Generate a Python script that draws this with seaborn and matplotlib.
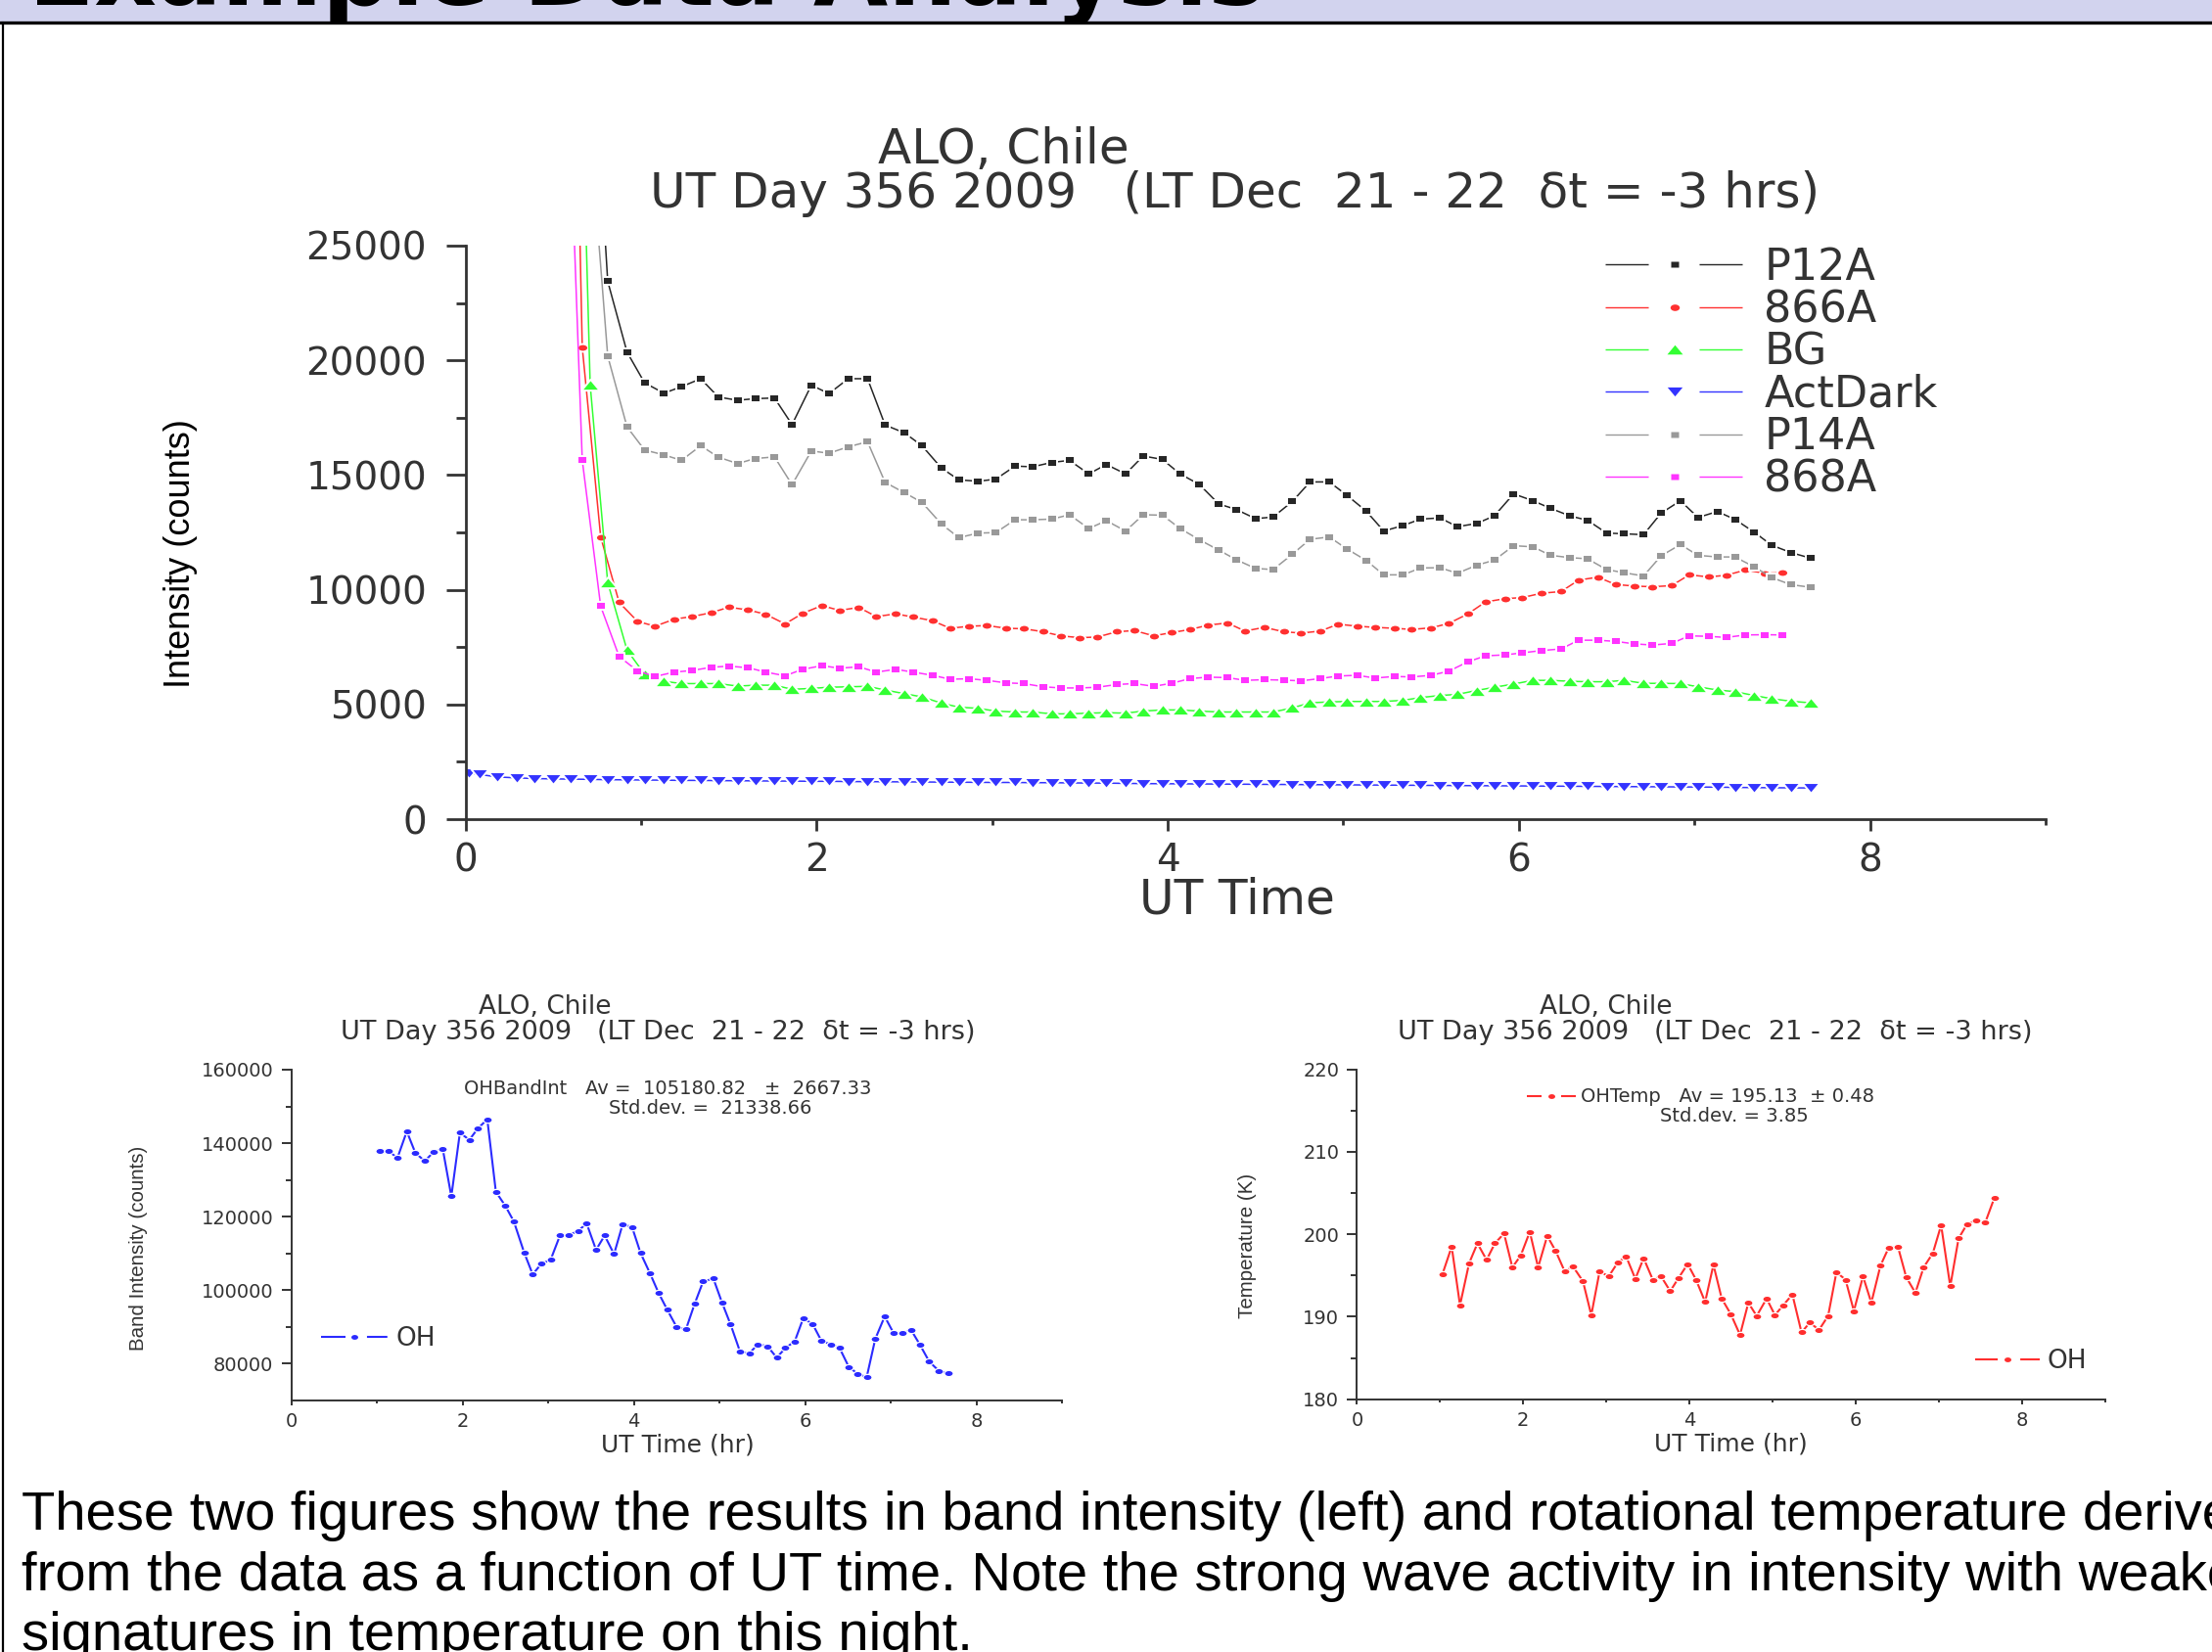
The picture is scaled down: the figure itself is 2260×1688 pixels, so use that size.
import matplotlib
matplotlib.use("Agg")
import matplotlib.pyplot as plt
import seaborn as sns
from matplotlib.lines import Line2D
from matplotlib.path import Path
from matplotlib.patches import Rectangle
from matplotlib.transforms import Affine2D, Bbox, TransformedBbox
from matplotlib.ticker import FixedLocator

sns.set_theme(style="ticks")
plt.rcParams['font.family'] = ['DejaVu Sans']
plt.rcParams['lines.scale_dashes'] = False

# ---- main panel: ALO night of UT day 356, 2009 ----
ut_main = [0.08, 0.18, 0.29, 0.39, 0.50, 0.60, 0.71, 0.81, 0.92, 1.02,
           1.13, 1.23, 1.34, 1.44, 1.55, 1.65, 1.76, 1.86, 1.97, 2.07,
           2.18, 2.29, 2.39, 2.50, 2.60, 2.71, 2.81, 2.92, 3.02, 3.13,
           3.23, 3.34, 3.44, 3.55, 3.65, 3.76, 3.86, 3.97, 4.07, 4.18,
           4.29, 4.39, 4.50, 4.60, 4.71, 4.81, 4.92, 5.02, 5.13, 5.23,
           5.34, 5.44, 5.55, 5.65, 5.76, 5.86, 5.97, 6.08, 6.18, 6.29,
           6.39, 6.50, 6.60, 6.71, 6.81, 6.92, 7.02, 7.13, 7.23, 7.34,
           7.44, 7.55, 7.66]
ut_dark = [0.02] + ut_main
ut_866 = [0.56, 0.665, 0.77, 0.875, 0.98, 1.08, 1.19, 1.29, 1.40, 1.50,
          1.61, 1.71, 1.82, 1.92, 2.03, 2.13, 2.24, 2.34, 2.45, 2.55,
          2.66, 2.76, 2.87, 2.97, 3.08, 3.18, 3.29, 3.39, 3.50, 3.60,
          3.71, 3.81, 3.92, 4.02, 4.13, 4.23, 4.34, 4.44, 4.55, 4.66,
          4.76, 4.87, 4.97, 5.08, 5.18, 5.29, 5.39, 5.50, 5.60, 5.71,
          5.81, 5.92, 6.02, 6.13, 6.24, 6.34, 6.45, 6.55, 6.66, 6.76,
          6.87, 6.97, 7.08, 7.18, 7.29, 7.40, 7.50]

p12a = [36000, 23450, 20360, 19020, 18570, 18850, 19200, 18400, 18260, 18330,
        18360, 17200, 18920, 18550, 19200, 19200, 17180, 16840, 16280, 15310,
        14790, 14730, 14820, 15390, 15360, 15550, 15640, 15050, 15460, 15050,
        15830, 15680, 15050, 14590, 13740, 13500, 13100, 13170, 13850, 14700,
        14700, 14120, 13430, 12560, 12800, 13080, 13130, 12750, 12890, 13220,
        14180, 13880, 13550, 13220, 13030, 12470, 12440, 12400, 13340, 13880,
        13150, 13410, 13070, 12510, 11940, 11620, 11380]
p14a = [30000, 20190, 17100, 16090, 15880, 15640, 16280, 15780, 15500, 15720,
        15790, 14580, 16050, 15950, 16230, 16450, 14680, 14230, 13810, 12870,
        12270, 12470, 12490, 13050, 13050, 13080, 13270, 12670, 13010, 12560,
        13270, 13250, 12670, 12180, 11730, 11310, 10930, 10880, 11550, 12200,
        12300, 11780, 11280, 10650, 10650, 10950, 10960, 10720, 11070, 11290,
        11920, 11870, 11500, 11400, 11350, 10880, 10740, 10600, 11480, 11970,
        11500, 11430, 11430, 11000, 10530, 10220, 10110]
bg = [50000, 18940, 10320, 7370, 6320, 6010, 5910, 5910, 5910, 5800,
      5840, 5840, 5660, 5700, 5750, 5770, 5790, 5630, 5470, 5330,
      5060, 4880, 4830, 4710, 4670, 4670, 4590, 4590, 4620, 4640,
      4620, 4710, 4760, 4760, 4710, 4670, 4670, 4670, 4670, 4850,
      5070, 5110, 5130, 5130, 5130, 5180, 5300, 5390, 5440, 5610,
      5750, 5890, 6050, 6050, 6010, 5990, 5990, 6050, 5920, 5920,
      5910, 5770, 5630, 5560, 5390, 5250, 5140, 5070]
act_dark = [2000, 1950, 1840, 1800, 1770, 1755, 1745, 1735, 1720, 1715,
            1705, 1700, 1690, 1690, 1680, 1675, 1670, 1660, 1660, 1650,
            1650, 1640, 1635, 1630, 1625, 1620, 1615, 1610, 1605, 1600,
            1600, 1590, 1590, 1580, 1575, 1570, 1560, 1550, 1545, 1540,
            1535, 1530, 1525, 1520, 1515, 1510, 1505, 1500, 1495, 1490,
            1485, 1480, 1475, 1470, 1465, 1460, 1455, 1450, 1445, 1440,
            1435, 1430, 1425, 1420, 1415, 1410, 1405, 1400, 1395, 1385,
            1375, 1370, 1365, 1360]
c866a = [58000, 20570, 12300, 9450, 8620, 8410, 8720, 8830, 9000, 9240,
         9120, 8930, 8510, 8970, 9310, 9100, 9230, 8830, 8950, 8810,
         8650, 8320, 8410, 8440, 8320, 8300, 8170, 7990, 7910, 7940,
         8170, 8220, 7990, 8130, 8270, 8460, 8550, 8200, 8360, 8170,
         8110, 8200, 8500, 8410, 8360, 8320, 8270, 8340, 8530, 8950,
         9470, 9610, 9660, 9850, 9920, 10420, 10550, 10230, 10160, 10130,
         10180, 10650, 10560, 10630, 10860, 10720, 10740]
c868a = [38000, 15650, 9280, 7090, 6460, 6220, 6410, 6480, 6620, 6670,
         6600, 6410, 6250, 6530, 6690, 6580, 6640, 6410, 6530, 6410,
         6270, 6100, 6120, 6050, 5940, 5910, 5770, 5720, 5720, 5750,
         5870, 5910, 5790, 5920, 6130, 6190, 6170, 6050, 6080, 6060,
         6030, 6130, 6240, 6270, 6150, 6220, 6200, 6270, 6450, 6860,
         7120, 7160, 7250, 7350, 7420, 7800, 7800, 7750, 7640, 7590,
         7660, 7990, 7970, 7920, 8030, 8040, 8030]

# ---- lower panels: OH band intensity and rotational temperature ----
ut_oh = [1.03, 1.14, 1.24, 1.35, 1.45, 1.56, 1.66, 1.77, 1.87, 1.97,
         2.08, 2.18, 2.29, 2.39, 2.50, 2.60, 2.72, 2.82, 2.92, 3.03,
         3.14, 3.24, 3.35, 3.45, 3.56, 3.66, 3.77, 3.87, 3.98, 4.08,
         4.19, 4.29, 4.39, 4.50, 4.61, 4.71, 4.81, 4.93, 5.03, 5.13,
         5.24, 5.35, 5.45, 5.56, 5.67, 5.77, 5.88, 5.98, 6.09, 6.19,
         6.30, 6.40, 6.51, 6.61, 6.72, 6.82, 6.93, 7.03, 7.14, 7.24,
         7.34, 7.45, 7.56, 7.67]
oh_band = [137870, 137870, 135910, 143200, 137330, 135110, 137510, 138400, 125510, 142840,
           140890, 144000, 146490, 126760, 122930, 118670, 110220, 104270, 107110, 108270,
           114930, 114930, 116090, 118130, 110930, 114840, 109780, 117870, 117160, 110040,
           104530, 99200, 94670, 89960, 89330, 96180, 102310, 103110, 96620, 90670,
           83290, 82760, 85240, 84710, 81600, 84180, 86040, 92360, 90670, 86220,
           85160, 84360, 79110, 77240, 76270, 86670, 92800, 88440, 88270, 89070,
           85160, 80530, 78040, 77330]
oh_temp = [195.2, 198.5, 191.4, 196.5, 198.9, 196.9, 198.9, 200.1, 196.0, 197.4,
           200.3, 196.0, 199.8, 198.0, 195.5, 196.1, 194.3, 190.2, 195.5, 194.9,
           196.6, 197.3, 194.6, 197.1, 194.5, 194.9, 193.1, 194.7, 196.4, 194.5,
           191.8, 196.3, 192.2, 190.3, 187.8, 191.7, 190.1, 192.2, 190.2, 191.4,
           192.7, 188.1, 189.3, 188.4, 190.1, 195.4, 194.5, 190.7, 194.9, 191.7,
           196.2, 198.4, 198.5, 194.8, 192.9, 196.0, 197.7, 201.1, 193.7, 199.5,
           201.2, 201.7, 201.4, 204.4]

title1 = 'ALO, Chile'
title2 = 'UT Day 356 2009   (LT Dec  21 - 22  \u03b4t = -3 hrs)'
caption = ['These two figures show the results in band intensity (left) and rotational temperature derived',
           'from the data as a function of UT time. Note the strong wave activity in intensity with weaker',
           'signatures in temperature on this night.']

INK = '#333333'
NARROW = ['Liberation Sans', 'DejaVu Sans']
W, H = 2260, 1688

# the original plots were stretched sideways, so the symbols are squat
sq = Path([(-1, -0.7), (1, -0.7), (1, 0.7), (-1, 0.7), (0, 0)], closed=True)
tri_up = Path([(-1, -0.6), (1, -0.6), (0, 0.6), (0, 0)], closed=True)
tri_dn = Path([(-1, 0.6), (1, 0.6), (0, -0.6), (0, 0)], closed=True)
dot = Path.unit_circle().transformed(Affine2D().scale(1, 0.7))


def box(l, t, r, b):
    return [l / W, 1 - b / H, (r - l) / W, (b - t) / H]


def style_axis(ax, major_len, minor_len, lw, pad):
    sns.despine(ax=ax)
    for s in ('left', 'bottom'):
        ax.spines[s].set_linewidth(lw)
        ax.spines[s].set_color(INK)
    ax.tick_params(which='both', direction='out', color=INK, width=lw, labelcolor=INK)
    ax.tick_params(axis='y', which='major', length=major_len[1], pad=pad[1])
    ax.tick_params(axis='y', which='minor', length=minor_len[1])
    ax.tick_params(axis='x', which='major', length=major_len[0], pad=pad[0])
    ax.tick_params(axis='x', which='minor', length=minor_len[0])
    ax.patch.set_alpha(0)


fig = plt.figure(figsize=(W / 100, H / 100), dpi=100)

# slide decoration
fig.patches.append(Rectangle((0, 1 - 22 / H), 1, 22 / H, transform=fig.transFigure,
                             facecolor='#d2d3ee', edgecolor='none', zorder=0))
fig.add_artist(Line2D([0, 1], [1 - 23 / H] * 2, transform=fig.transFigure, color='black', lw=2.4))
fig.add_artist(Line2D([2.5 / W] * 2, [0, 1 - 23 / H], transform=fig.transFigure, color='black', lw=1.6))
banner = fig.text(29 / W, 1 - 5 / H, 'Example Data Analysis', fontsize=71, fontweight='bold',
                  color='black', ha='left', va='baseline')
banner.set_clip_box(TransformedBbox(Bbox([[0, 1 - 22 / H], [1, 1]]), fig.transFigure))
banner.set_clip_on(True)

# ---- main plot ----
ax = fig.add_axes(box(475.6, 251, 2090, 837))
main_series = [
    ('P12A', ut_main[6:], p12a, '#262626', sq, 7.5),
    ('866A', ut_866, c866a, '#ff3030', dot, 8),
    ('BG', ut_main[5:], bg, '#33ff33', tri_up, 13.5),
    ('ActDark', ut_dark, act_dark, '#3333ff', tri_dn, 13),
    ('P14A', ut_main[6:], p14a, '#999999', sq, 7.5),
    ('868A', ut_866, c868a, '#ff33ff', sq, 7.5),
]
handles = []
for name, t, v, col, mk, ms in main_series:
    sns.lineplot(x=t, y=v, ax=ax, color=col, marker=mk, markersize=ms,
                 markeredgecolor='white', markeredgewidth=1.4, linewidth=1.1,
                 estimator=None, errorbar=None, sort=False)
    handles.append(Line2D([], [], color=col, lw=1.0, dashes=(31.7, 37.4, 31.7, 300),
                          marker=mk, markersize=ms * 0.85, markeredgecolor='none'))

ax.set_xlim(0, 9)
ax.set_ylim(0, 25000)
ax.set_xticks([0, 2, 4, 6, 8])
ax.xaxis.set_minor_locator(FixedLocator([1, 3, 5, 7, 9]))
ax.set_yticks([0, 5000, 10000, 15000, 20000, 25000])
ax.yaxis.set_minor_locator(FixedLocator([2500, 7500, 12500, 17500, 22500]))
style_axis(ax, (8.6, 14.4), (4.5, 7.2), 2.0, (8, 14))
ax.tick_params(labelsize=28)
ax.set_xlabel('UT Time', fontsize=35, color=INK, va='center')
ax.xaxis.set_label_coords(0.4883, -0.1416)
ax.set_ylabel('Intensity (counts)', fontsize=26, color='black', family=NARROW, va='center')
ax.yaxis.set_label_coords(-0.1806, 0.4625)

leg = ax.legend(handles, [s[0] for s in main_series], loc='upper left',
                bbox_to_anchor=(1640 / W, 1 - 252 / H), bbox_transform=fig.transFigure,
                frameon=False, fontsize=32, handlelength=3.2, handletextpad=0.45,
                labelspacing=0.006, borderpad=0, borderaxespad=0)
for tx in leg.get_texts():
    tx.set_color(INK)

fig.text(1025 / W, 1 - 153 / H, title1, fontsize=36, color=INK, ha='center', va='center')
fig.text(1262 / W, 1 - 198 / H, title2, fontsize=36, color=INK, ha='center', va='center')

# ---- lower left: band intensity ----
ax2 = fig.add_axes(box(297.5, 1093, 1085, 1430.7))
sns.lineplot(x=ut_oh, y=oh_band, ax=ax2, color='#2b2bff', marker=dot, markersize=6.5,
             markeredgecolor='white', markeredgewidth=0.9, linewidth=1.5,
             estimator=None, errorbar=None, sort=False)
ax2.set_xlim(0, 9)
ax2.set_ylim(70000, 160000)
ax2.set_xticks([0, 2, 4, 6, 8])
ax2.xaxis.set_minor_locator(FixedLocator([1, 3, 5, 7, 9]))
ax2.set_yticks([80000, 100000, 120000, 140000, 160000])
ax2.yaxis.set_minor_locator(FixedLocator([90000, 110000, 130000, 150000]))
style_axis(ax2, (3.5, 7.5), (2.5, 4.5), 1.4, (5, 5.5))
ax2.tick_params(labelsize=14)
ax2.set_xlabel('UT Time (hr)', fontsize=18, color=INK, va='center')
ax2.xaxis.set_label_coords(0.501, -0.136)
ax2.set_ylabel('Band Intensity (counts)', fontsize=14.8, color=INK, family=NARROW, va='center')
ax2.yaxis.set_label_coords(-0.1987, 0.459)
h_oh_b = Line2D([], [], color='#2b2bff', lw=1.5, dashes=(18, 15.8, 15, 300),
                marker=dot, markersize=5, markeredgecolor='none')
leg2 = ax2.legend([h_oh_b], ['OH'], loc='center left', bbox_to_anchor=(328 / W, 1 - 1368 / H),
                  bbox_transform=fig.transFigure, frameon=False, fontsize=19,
                  handlelength=2.6, handletextpad=0.3, borderpad=0, borderaxespad=0)
leg2.get_texts()[0].set_color(INK)
fig.text(682 / W, 1 - 1113 / H, 'OHBandInt   Av =  105180.82   \u00b1  2667.33',
         fontsize=14, color=INK, ha='center', va='center')
fig.text(726 / W, 1 - 1132 / H, 'Std.dev. =  21338.66', fontsize=14, color=INK,
         ha='center', va='center')
fig.text(557 / W, 1 - 1029 / H, title1, fontsize=19, color=INK, ha='center', va='center')
fig.text(672 / W, 1 - 1055 / H, title2, fontsize=19.5, color=INK, ha='center', va='center')

# ---- lower right: rotational temperature ----
ax3 = fig.add_axes(box(1386.4, 1092.7, 2150.5, 1429.7))
sns.lineplot(x=ut_oh, y=oh_temp, ax=ax3, color='#ff2e2e', marker=dot, markersize=6.5,
             markeredgecolor='white', markeredgewidth=0.9, linewidth=1.5,
             estimator=None, errorbar=None, sort=False)
ax3.set_xlim(0, 9)
ax3.set_ylim(180, 220)
ax3.set_xticks([0, 2, 4, 6, 8])
ax3.xaxis.set_minor_locator(FixedLocator([1, 3, 5, 7, 9]))
ax3.set_yticks([180, 190, 200, 210, 220])
ax3.yaxis.set_minor_locator(FixedLocator([185, 195, 205, 215]))
style_axis(ax3, (3.5, 7.5), (2.5, 4.5), 1.4, (5, 5.5))
ax3.tick_params(labelsize=14)
ax3.set_xlabel('UT Time (hr)', fontsize=18, color=INK, va='center')
ax3.xaxis.set_label_coords(0.4994, -0.137)
ax3.set_ylabel('Temperature (K)', fontsize=14.8, color=INK, family=NARROW, va='center')
ax3.yaxis.set_label_coords(-0.147, 0.465)
h_stat = Line2D([], [], color='#ff2e2e', lw=1.5, dashes=(10.8, 14.4, 10.8, 300),
                marker=dot, markersize=5, markeredgecolor='none')
leg3a = ax3.legend([h_stat], ['OHTemp   Av = 195.13  \u00b1 0.48'], loc='center left',
                   bbox_to_anchor=(1560 / W, 1 - 1121 / H), bbox_transform=fig.transFigure,
                   frameon=False, fontsize=14, handlelength=2.55, handletextpad=0.3,
                   borderpad=0, borderaxespad=0)
leg3a.get_texts()[0].set_color(INK)
ax3.add_artist(leg3a)
h_oh_t = Line2D([], [], color='#ff2e2e', lw=1.5, dashes=(16.6, 16.6, 15, 300),
                marker=dot, markersize=5, markeredgecolor='none')
leg3 = ax3.legend([h_oh_t], ['OH'], loc='center left', bbox_to_anchor=(2017.5 / W, 1 - 1391 / H),
                  bbox_transform=fig.transFigure, frameon=False, fontsize=19,
                  handlelength=2.52, handletextpad=0.3, borderpad=0, borderaxespad=0)
leg3.get_texts()[0].set_color(INK)
fig.text(1772 / W, 1 - 1141 / H, 'Std.dev. = 3.85', fontsize=14, color=INK,
         ha='center', va='center')
fig.text(1641 / W, 1 - 1029 / H, title1, fontsize=19, color=INK, ha='center', va='center')
fig.text(1752.5 / W, 1 - 1055 / H, title2, fontsize=19.5, color=INK, ha='center', va='center')

# ---- caption under the plots ----
for line, base in zip(caption, [1563, 1625, 1686]):
    fig.text(22 / W, 1 - base / H, line, fontsize=40.5, color='black', family=NARROW,
             ha='left', va='baseline')

fig.savefig('out.png', dpi=100, facecolor='white')
